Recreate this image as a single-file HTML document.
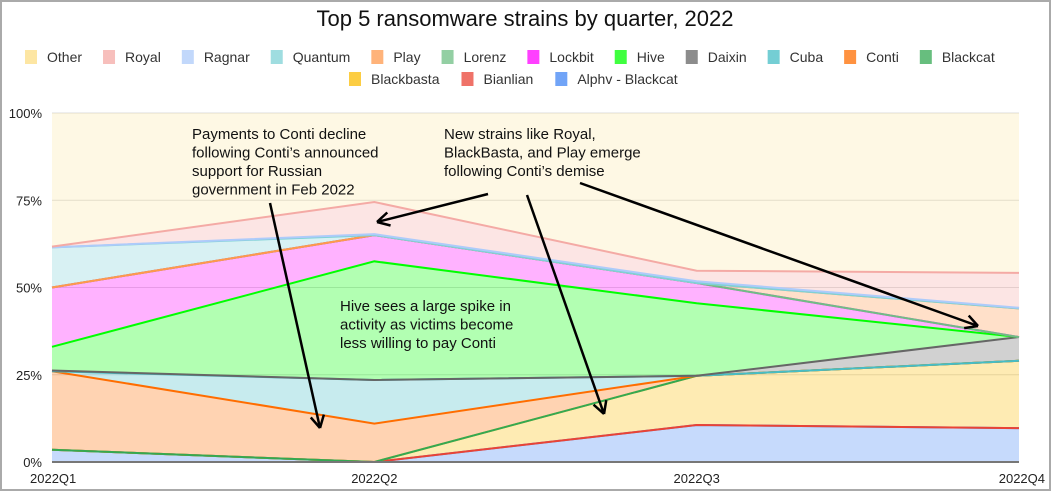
<!DOCTYPE html>
<html><head><meta charset="utf-8"><style>
body{margin:0;width:1051px;height:491px;overflow:hidden;background:#fff;font-family:"Liberation Sans",sans-serif}
#frame{position:absolute;left:0;top:0;width:1047px;height:487px;border:2px solid #aaa}
</style></head><body>
<div id="frame"></div>
<svg id="chart" width="1051" height="491" style="position:absolute;left:0;top:0"></svg>
<script>
const quarters=["2022Q1","2022Q2","2022Q3","2022Q4"];
const seriesNames=["Alphv - Blackcat","Bianlian","Blackbasta","Blackcat","Conti","Cuba","Daixin","Hive","Lockbit","Lorenz","Play","Quantum","Ragnar","Royal","Other"];
const seriesColors=["#4285f4","#ea4335","#fbbc04","#34a853","#ff6d00","#46bdc6","#666666","#00ff00","#ff00ff","#6fbf84","#ff994d","#7fd1d6","#aecbfa","#f4aaa5","#fde293"];
// per-series share (%) for Q1..Q4
const sAlphv=[3.5,0,10.6,9.7];
const sBianlian=[0,0,0,0];
const sBlackbasta=[0,0,14.1,19.3];
const sBlackcat=[0,0,0,0];
const sConti=[22.5,11,0,0];
const sCuba=[0,12.5,0,0];
const sDaixin=[0.2,0,0,6.8];
const sHive=[6.8,34,20.8,0];
const sLockbit=[17,7.5,5.8,0];
const sLorenz=[0,0,0,0];
const sPlay=[0,0,0,8.2];
const sQuantum=[11.5,0,0,0];
const sRagnar=[0,0.3,0.5,0.2];
const sRoyal=[0.2,9.2,3,10];
const sOther=[38.3,25.5,45.2,45.8];
const allSeries=[sAlphv,sBianlian,sBlackbasta,sBlackcat,sConti,sCuba,sDaixin,sHive,sLockbit,sLorenz,sPlay,sQuantum,sRagnar,sRoyal,sOther];
const yTicks=[0,25,50,75,100];
const legendRow1=["Other","Royal","Ragnar","Quantum","Play","Lorenz","Lockbit","Hive","Daixin","Cuba","Conti","Blackcat"];
const legendRow2=["Blackbasta","Bianlian","Alphv - Blackcat"];

const NS="http://www.w3.org/2000/svg",svg=document.getElementById("chart");
const X0=52,X1=1019,Y0=462,Y1=113;
const xs=i=>X0+(X1-X0)*i/(quarters.length-1);
const ys=v=>Y0-(Y0-Y1)*v/100;
function mk(t,a,p){const e=document.createElementNS(NS,t);for(const k in a)e.setAttribute(k,a[k]);(p||svg).appendChild(e);return e;}
function txt(s,x,y,o){const e=mk("text",Object.assign({x:x,y:y,"font-size":13,fill:"#222","font-family":"Liberation Sans, sans-serif"},o||{}));e.textContent=s;return e;}

let t=txt("Top 5 ransomware strains by quarter, 2022",525,26,{"font-size":22,"text-anchor":"middle",fill:"#111"});



// legend
function leg(names,startX,gap,y){let x=startX;names.forEach(n=>{const c=seriesColors[seriesNames.indexOf(n)];const g=mk("g",{});


mk("rect",{x:x,y:y-7,width:12,height:14,fill:c,opacity:n=="Other"?0.85:0.75},g);
const tt=txt(n,x+22,y+5,{"font-size":14,fill:"#333"});g.appendChild(tt);
x+=22+tt.getComputedTextLength()+gap;});}
leg(legendRow1,25,21,57);
leg(legendRow2,349,22,79);

// plot background / grid
yTicks.forEach(v=>{const l=mk("line",{x1:X0,x2:X1,y1:ys(v),y2:ys(v),stroke:"#ddd","stroke-width":1});


const tl=txt(v+"%",42,ys(v)+5,{"text-anchor":"end","font-size":13});

});

// stacked areas
let base=quarters.map(()=>0);
allSeries.forEach((s,k)=>{const top=base.map((b,i)=>b+s[i]);
const up=top.map((v,i)=>xs(i)+","+ys(v)).join(" ");
const dn=base.map((v,i)=>xs(i)+","+ys(v)).reverse().join(" ");
const a=mk("polygon",{points:up+" "+dn,fill:seriesColors[k],"fill-opacity":k==14?0.25:0.3,stroke:"none"});


base=top;});
base=quarters.map(()=>0);
allSeries.forEach((s,k)=>{const top=base.map((b,i)=>b+s[i]);
if(k<14){const l=mk("polyline",{points:top.map((v,i)=>xs(i)+","+ys(v)).join(" "),fill:"none",stroke:seriesColors[k],"stroke-width":2});

}
base=top;});
const ax=mk("line",{x1:X0,x2:X1,y1:Y0,y2:Y0,stroke:"#777","stroke-width":2});


quarters.forEach((q,i)=>{const e=txt(q,i==0?30:i==3?1045:xs(i),483,{"text-anchor":i==0?"start":i==3?"end":"middle","font-size":13});

});

// annotations
function note(lines,x,y,name){const g=mk("g",{});


lines.forEach((s,i)=>{g.appendChild(txt(s,x,y+i*18.5,{"font-size":15,fill:"#111"}));});}
note(["Payments to Conti decline","following Conti’s announced","support for Russian","government in Feb 2022"],192,139,"annotation-conti");
note(["New strains like Royal,","BlackBasta, and Play emerge","following Conti’s demise"],444,139,"annotation-new-strains");
note(["Hive sees a large spike in","activity as victims become","less willing to pay Conti"],340,311,"annotation-hive");
function arrow(x1,y1,x2,y2,name){const g=mk("g",{});


mk("line",{x1:x1,y1:y1,x2:x2,y2:y2,stroke:"#000","stroke-width":2.5},g);
const a=Math.atan2(y2-y1,x2-x1),L=14;
[0.5,-0.5].forEach(d=>mk("line",{x1:x2,y1:y2,x2:x2-L*Math.cos(a+d),y2:y2-L*Math.sin(a+d),stroke:"#000","stroke-width":2.5},g));}
arrow(270,203,320,428,"arrow-conti");
arrow(488,194,377,222,"arrow-royal");
arrow(527,195,604,414,"arrow-blackbasta");
arrow(580,183,978,326,"arrow-play");
</script>
</body></html>
